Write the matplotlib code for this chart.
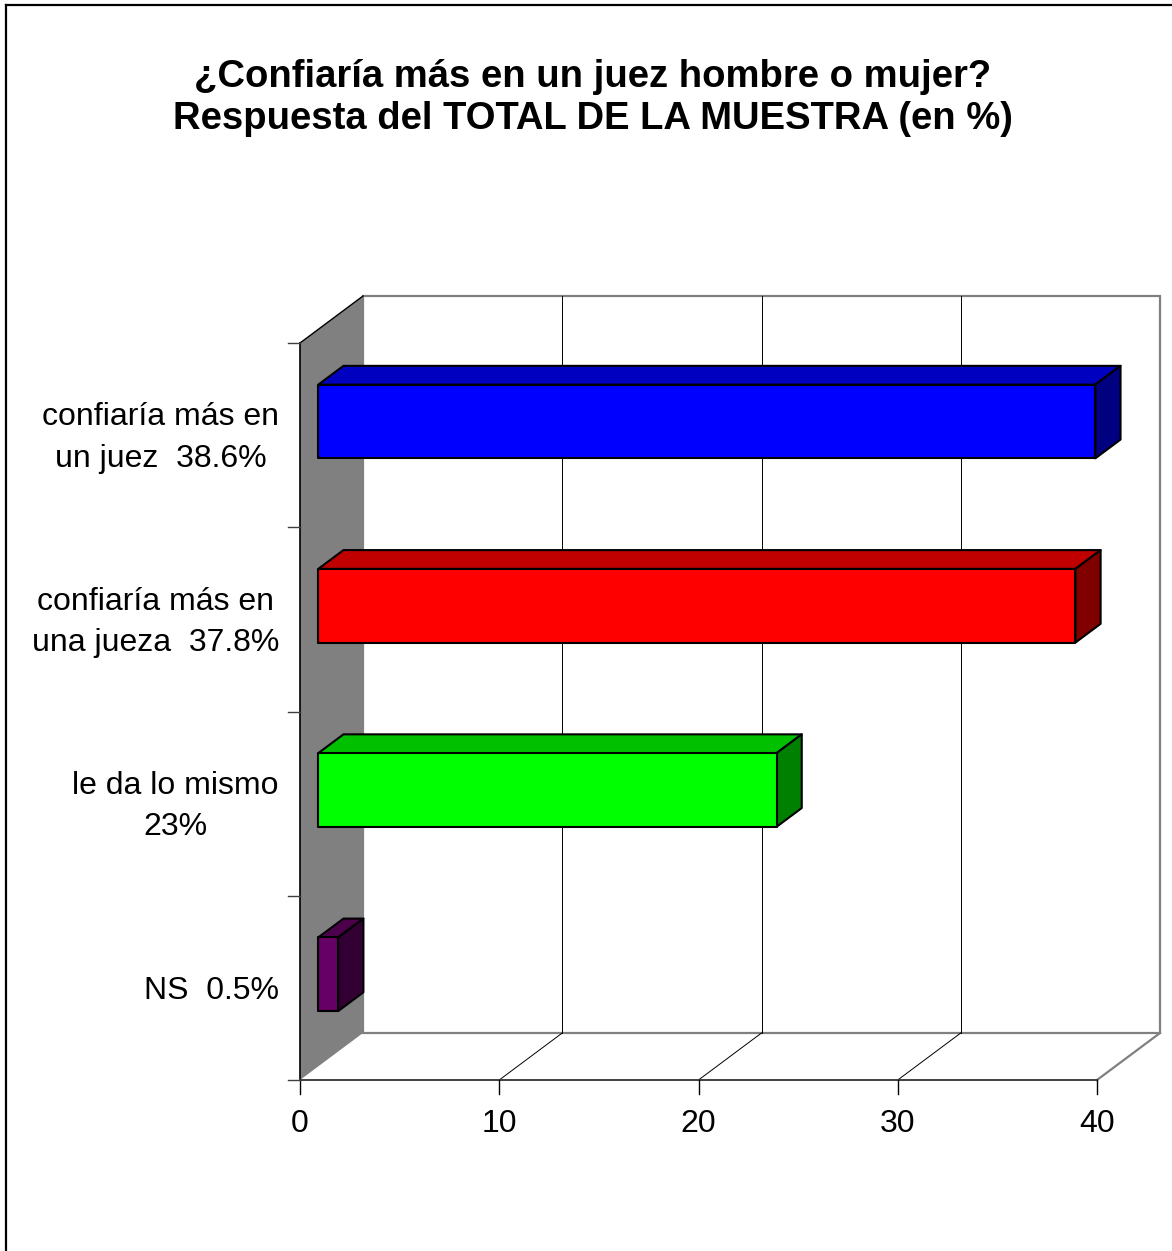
import matplotlib
matplotlib.use("Agg")
import matplotlib.pyplot as plt
from matplotlib.patches import Polygon, Rectangle

plt.rcParams['font.family'] = ['Liberation Sans', 'DejaVu Sans']

# data (top to bottom)
labels = ["confiaría más en\nun juez  38.6%",
          "confiaría más en\nuna jueza  37.8%",
          "le da lo mismo\n23%",
          "NS  0.5%"]
values = [39, 38, 23, 1]
front_colors = ["#0000FF", "#FF0000", "#00FF00", "#660066"]
top_colors = ["#0000C0", "#C00000", "#00C000", "#4C004C"]
side_colors = ["#000080", "#800000", "#008000", "#330033"]
x_ticks = [0, 10, 20, 30, 40]
title = "¿Confiaría más en un juez hombre o mujer?\nRespuesta del TOTAL DE LA MUESTRA (en %)"

W, H = 1172, 1251
fig = plt.figure(figsize=(W / 100, H / 100), dpi=100)

# outer border (only top/left visible in the picture)
fig.add_artist(plt.Line2D([6 / W, 6 / W], [0, 1 - 5 / H], transform=fig.transFigure,
                          color="black", lw=1.6))
fig.add_artist(plt.Line2D([6 / W, 1], [1 - 5 / H, 1 - 5 / H], transform=fig.transFigure,
                          color="black", lw=1.6))

ax = fig.add_axes([300 / W, 171 / H, 797 / W, 737 / H])
xmax = x_ticks[-1]
n = len(values)
ax.set_xlim(0, xmax)
ax.set_ylim(0, n)
ax.axis('off')

# depth vector in data units
DX = 63 / (797 / xmax)
DY = 47 / (737 / n)

# left wall
ax.add_patch(Polygon([(0, 0), (0, n), (DX, n + DY), (DX, DY)], closed=True,
                     facecolor="#808080", edgecolor="none", clip_on=False, zorder=1))
ax.plot([0, 0], [0, n], color="black", lw=1.2, clip_on=False, zorder=3)
ax.plot([0, DX], [n, n + DY], color="black", lw=1.0, clip_on=False, zorder=3)

# back plane
ax.add_patch(Rectangle((DX, DY), xmax, n, facecolor="white", edgecolor="#808080",
                       lw=1.6, clip_on=False, zorder=1))
for xt in x_ticks[1:-1]:
    ax.plot([xt + DX, xt + DX], [DY, n + DY], color="black", lw=0.7, clip_on=False, zorder=2)
    ax.plot([xt, xt + DX], [0, DY], color="black", lw=0.7, clip_on=False, zorder=2)
ax.plot([xmax, xmax + DX], [0, DY], color="#808080", lw=1.6, clip_on=False, zorder=2)
ax.plot([0, xmax], [0, 0], color="#404040", lw=1.4, clip_on=False, zorder=3)

# ticks
for xt in x_ticks:
    ax.plot([xt, xt], [0, -0.075], color="black", lw=1.0, clip_on=False, zorder=3)
    ax.text(xt, -0.24, str(xt), ha='center', va='center', fontsize=23, clip_on=False)
for k in range(n + 1):
    ax.plot([-0.6, 0], [k, k], color="#404040", lw=1.0, clip_on=False, zorder=3)

# category labels
for i, lab in enumerate(labels):
    yc = n - i - 0.5
    ax.annotate(lab, xy=(0, yc), xytext=(-21, -3), textcoords='offset pixels',
                ha='right', va='center', multialignment='center', fontsize=23,
                linespacing=1.5, annotation_clip=False)

# bars with 3D faces
f0, f1 = 0.29, 0.69
half = 0.2
for i, v in enumerate(values):
    yc = n - i - 0.5
    x0, y0 = f0 * DX, yc - half + f0 * DY
    x1, y1 = x0 + v, yc + half + f0 * DY
    ddx, ddy = (f1 - f0) * DX, (f1 - f0) * DY
    kw = dict(closed=True, edgecolor="black", lw=1.5, clip_on=False, zorder=5,
              joinstyle='round')
    ax.add_patch(Polygon([(x0, y1), (x1, y1), (x1 + ddx, y1 + ddy), (x0 + ddx, y1 + ddy)],
                         facecolor=top_colors[i], **kw))
    ax.add_patch(Polygon([(x1, y0), (x1 + ddx, y0 + ddy), (x1 + ddx, y1 + ddy), (x1, y1)],
                         facecolor=side_colors[i], **kw))
    ax.add_patch(Polygon([(x0, y0), (x1, y0), (x1, y1), (x0, y1)],
                         facecolor=front_colors[i], **kw))

fig.text(593 / W, 1 - 98 / H, title, ha='center', va='center', fontsize=27.5,
         fontweight='bold', linespacing=1.2)

fig.savefig("out.png", dpi=100)
